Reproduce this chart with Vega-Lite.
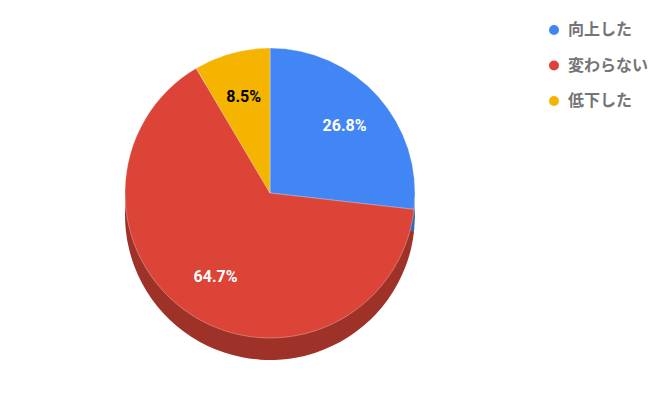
{
  "$schema": "https://vega.github.io/schema/vega-lite/v6.json",
  "width": 540,
  "height": 386,
  "padding": 0,
  "background": "white",
  "config": {"view": {"stroke": null}},
  "data": {"values": [
    {"category": "向上した", "value": 26.8, "o": 1, "label": "26.8%"},
    {"category": "変わらない", "value": 64.7, "o": 2, "label": "64.7%"},
    {"category": "低下した", "value": 8.5, "o": 3, "label": "8.5%"}
  ]},
  "encoding": {
    "theta": {"field": "value", "type": "quantitative", "stack": true},
    "order": {"field": "o", "type": "quantitative"}
  },
  "layer": [
    {
      "mark": {"type": "arc", "outerRadius": 145, "yOffset": 22},
      "encoding": {
        "color": {"field": "category", "type": "nominal", "legend": null,
          "scale": {"domain": ["向上した", "変わらない", "低下した"], "range": ["#3267b8", "#9e3128", "#b88800"]}}
      }
    },
    {
      "mark": {"type": "arc", "outerRadius": 145, "stroke": "#ffffff", "strokeWidth": 0.5, "strokeOpacity": 0.6},
      "encoding": {
        "color": {"field": "category", "type": "nominal",
          "scale": {"domain": ["向上した", "変わらない", "低下した"], "range": ["#4285F4", "#DB4437", "#F4B400"]},
          "legend": {"title": null, "orient": "none", "legendX": 546, "legendY": 22,
            "symbolType": "circle", "symbolSize": 100, "symbolStrokeWidth": 0,
            "labelFont": "Noto Sans CJK JP", "labelFontSize": 16, "labelFontWeight": "bold",
            "labelColor": "#757575", "rowPadding": 19.5, "labelOffset": 6}
        }
      }
    },
    {
      "mark": {"type": "text", "radius": 100, "font": "Roboto", "fontSize": 16, "fontWeight": "bold"},
      "encoding": {
        "text": {"field": "label"},
        "color": {"condition": {"test": "datum.o == 3", "value": "#000000"}, "value": "#ffffff"}
      }
    }
  ],
  "resolve": {"scale": {"color": "independent"}}
}
